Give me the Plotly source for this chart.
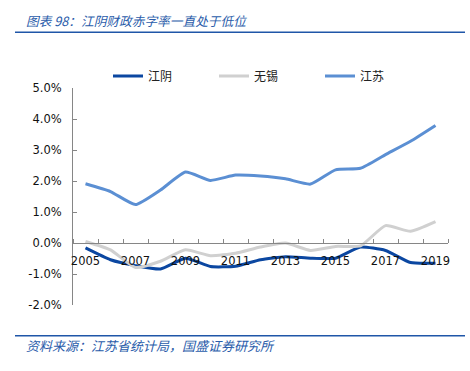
import plotly.graph_objects as go

years = list(range(2005, 2020))
jiangyin = [-0.16, -0.54, -0.73, -0.84, -0.49, -0.76, -0.75, -0.54, -0.44, -0.49, -0.49, -0.13, -0.24, -0.63, -0.65]
wuxi = [0.05, -0.22, -0.79, -0.59, -0.22, -0.41, -0.33, -0.13, 0.0, -0.24, -0.11, -0.09, 0.56, 0.38, 0.69]
jiangsu = [1.91, 1.66, 1.24, 1.71, 2.29, 2.02, 2.19, 2.16, 2.07, 1.90, 2.36, 2.41, 2.85, 3.28, 3.79]
series_names = ["江阴", "无锡", "江苏"]
colors = ["#0B47A1", "#D0D0D0", "#5B8FD3"]
y_ticks = [-2, -1, 0, 1, 2, 3, 4, 5]
y_tick_labels = ["-2.0%", "-1.0%", "0.0%", "1.0%", "2.0%", "3.0%", "4.0%", "5.0%"]
x_label_years = [2005, 2007, 2009, 2011, 2013, 2015, 2017, 2019]

W, H = 470, 371
L, R, T, B = 73, 22, 88, 66
pw, ph = W - L - R, H - T - B

def px(x):
    return (x - L) / pw

def py(y):
    return (H - B - y) / ph

fig = go.Figure()
for name, vals, c in zip(series_names, [jiangyin, wuxi, jiangsu], colors):
    fig.add_trace(go.Scatter(x=years, y=vals, mode="lines", name=name,
                             line=dict(color=c, width=3, shape="spline", smoothing=0.5)))

axis_font = dict(family="DejaVu Sans", size=11.5, color="#111111")
fig.update_layout(
    width=W, height=H,
    margin=dict(l=L, r=R, t=T, b=B, autoexpand=False),
    paper_bgcolor="white", plot_bgcolor="white",
    showlegend=True,
    legend=dict(orientation="h", xref="container", yref="container",
                x=(108) / W, y=1 - 76 / H, xanchor="left", yanchor="middle",
                font=dict(family="Noto Sans CJK SC", size=12, color="#222222"),
                entrywidth=61, entrywidthmode="pixels", bgcolor="rgba(0,0,0,0)"),
    xaxis=dict(range=[2004.5, 2019.5], tickvals=x_label_years,
               ticktext=[str(v) for v in x_label_years],
               ticks="", showgrid=False, zeroline=False,
               showline=True, linecolor="#868686", linewidth=1,
               anchor="free", position=2 / 7,
               ticklabelstandoff=7,
               minor=dict(tick0=2004.5, dtick=1, ticks="inside", ticklen=4,
                          tickcolor="#868686", tickwidth=1, showgrid=False),
               tickfont=axis_font),
    yaxis=dict(range=[-2, 5], tickvals=y_ticks, ticktext=y_tick_labels,
               ticks="inside", ticklen=4, tickcolor="#868686",
               showgrid=False, zeroline=False,
               showline=True, linecolor="#868686", linewidth=1,
               ticklabelstandoff=8, tickfont=axis_font),
)

blue = "#1F56A8"
fig.add_shape(type="line", xref="paper", yref="paper",
              x0=px(15), x1=px(465), y0=py(32.3), y1=py(32.3),
              line=dict(color=blue, width=1.5))
fig.add_shape(type="line", xref="paper", yref="paper",
              x0=px(15), x1=px(465), y0=py(335.7), y1=py(335.7),
              line=dict(color=blue, width=1.5))
fig.add_annotation(text="<i>图表 98：江阴财政赤字率一直处于低位</i>", xref="paper", yref="paper",
                   x=px(24), y=py(20), xanchor="left", yanchor="middle", showarrow=False,
                   font=dict(family="Noto Sans CJK SC", size=12.7, color="#2A5CAA"))
fig.add_annotation(text="<i>资料来源：江苏省统计局，国盛证券研究所</i>", xref="paper", yref="paper",
                   x=px(24), y=py(345), xanchor="left", yanchor="middle", showarrow=False,
                   font=dict(family="Noto Sans CJK SC", size=13, color="#2A5CAA"))

fig.write_html("out.html", post_script="document.body.style.margin='0';",
               config={"displayModeBar": False})
